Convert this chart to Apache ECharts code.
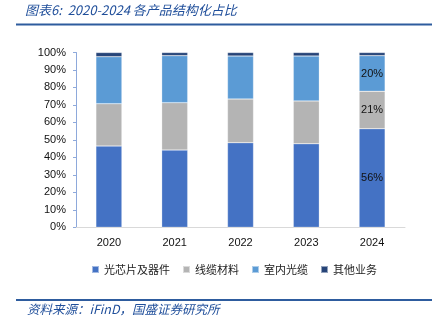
<!DOCTYPE html>
<html><head><meta charset="utf-8">
<script src="https://cdn.jsdelivr.net/npm/echarts@6/dist/echarts.min.js"></script>
<style>html,body{margin:0;padding:0;background:#fff}#c{width:437px;height:327px}</style>
</head><body><div id="c"></div>
<script>
const categories = ['2020','2021','2022','2023','2024'];
const chips = [46.5, 44.2, 48.4, 47.8, 56.4];
const cable = [24.2, 27.1, 25.0, 24.5, 21.4];
const indoor = [26.9, 26.9, 24.6, 25.7, 20.4];
const other = [2.4, 1.8, 2.0, 2.0, 1.8];
const seriesNames = ['光芯片及器件','线缆材料','室内光缆','其他业务'];
const yTicks = [0,10,20,30,40,50,60,70,80,90,100];
const labelYear = '2024';

const colors = ['#4472C4','#B4B4B4','#5B9BD5','#264478'];
const chart = echarts.init(document.getElementById('c'));
const dataSets = [chips, cable, indoor, other];
const showLabel = [true, true, true, false];
const series = dataSets.map((d, i) => ({
  name: seriesNames[i], type: 'bar', stack: 's', barWidth: 26,
  itemStyle: {color: colors[i], borderColor: 'rgba(255,255,255,0.5)', borderWidth: 0.5},
  data: d.map((v, j) => ({
    value: v,
    label: {show: showLabel[i] && categories[j] === labelYear}
  })),
  label: {position: 'inside', color: '#111', fontSize: 11, fontFamily: 'Liberation Sans',
    formatter: p => Math.round(p.value) + '%'}
}));
chart.setOption({
  animation: false,
  color: colors,
  grid: {left: 76, right: 32, top: 52.5, bottom: 99.7},
  graphic: [
    {type: 'text', left: 25, top: 4, style: {text: '图表6:  2020-2024 各产品结构化占比', fill: '#1F4E9A', font: 'italic 13px "Noto Sans CJK SC"'}},
    {type: 'rect', shape: {x: 16, y: 23.5, width: 416, height: 2}, style: {fill: '#2E5C9E'}},
    {type: 'rect', shape: {x: 16, y: 299, width: 416, height: 2}, style: {fill: '#2E5C9E'}},
    {type: 'text', left: 27, top: 303, style: {text: '资料来源：iFinD，国盛证券研究所', fill: '#1F4E9A', font: 'italic 12.5px "Noto Sans CJK SC"'}}
  ],
  legend: {bottom: 47, left: 86, itemWidth: 7, itemHeight: 7, itemGap: 12, icon: 'rect',
    textStyle: {fontSize: 11, color: '#222', fontFamily: 'Noto Sans CJK SC'}, data: seriesNames},
  xAxis: {type: 'category', data: categories,
    axisLine: {lineStyle: {color: '#D9D9D9'}}, axisTick: {show: false},
    axisLabel: {color: '#111', fontSize: 11, fontFamily: 'Liberation Sans', margin: 10}},
  yAxis: {type: 'value', min: yTicks[0], max: yTicks[yTicks.length-1], interval: 10,
    axisLine: {show: true, lineStyle: {color: '#8EA9DB'}},
    axisTick: {show: true, length: 3, lineStyle: {color: '#8EA9DB'}},
    splitLine: {show: false},
    axisLabel: {color: '#111', fontSize: 11, fontFamily: 'Liberation Sans', margin: 10, formatter: v => v + '%'}},
  series
});
</script></body></html>
